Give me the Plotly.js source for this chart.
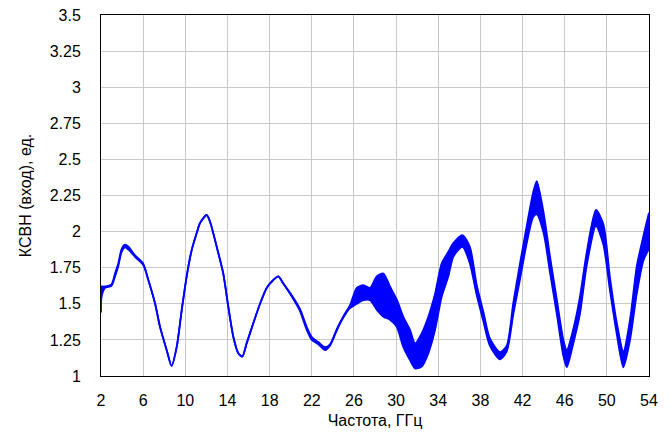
<!DOCTYPE html>
<html>
<head>
<meta charset="utf-8">
<script src="https://cdn.plot.ly/plotly-3.0.1.min.js"></script>
<style>html,body{margin:0;padding:0;background:#fff;}</style>
</head>
<body>
<div id="chart" style="width:672px;height:435px;"></div>
<script>
// Frequency, GHz
const freq = [2.0, 2.06, 2.38, 3.0, 3.33, 3.64, 3.96, 4.28, 4.6, 5.23, 6.0, 6.49, 7.12, 7.6, 8.23, 8.7, 9.18, 9.66, 10.13, 10.6,
  11.08, 11.4, 12.03, 12.34, 12.98, 13.6, 14.08, 14.56, 15.03, 15.41, 15.82, 16.45, 17.09, 17.72, 18.35, 18.83, 19.3, 20.1, 20.88, 21.52,
  22.0, 22.62, 23.26, 23.73, 24.37, 25.0, 25.63, 26.27, 26.9, 27.53, 28.16, 28.8, 29.42, 30.06, 30.69, 31.32, 31.8, 32.43, 33.06, 33.7,
  34.33, 34.96, 35.43, 36.3, 37.0, 37.65, 38.28, 38.9, 39.86, 40.5, 41.13, 41.76, 42.4, 43.0, 43.35, 44.0, 44.6, 45.25, 45.87, 46.2,
  46.8, 47.45, 48.1, 48.97, 49.67, 50.3, 50.94, 51.57, 52.2, 52.84, 53.47, 54.0];
// VSWR, lower envelope of the measured trace
const vswrLow = [1.44, 1.55, 1.61, 1.625, 1.69, 1.76, 1.86, 1.89, 1.875, 1.825, 1.77, 1.665, 1.505, 1.34, 1.18, 1.07, 1.20, 1.457, 1.69, 1.87,
  1.99, 2.06, 2.115, 2.07, 1.895, 1.71, 1.48, 1.27, 1.157, 1.135, 1.226, 1.365, 1.50, 1.61, 1.665, 1.69, 1.64, 1.55, 1.45, 1.32,
  1.25, 1.22, 1.18, 1.21, 1.315, 1.405, 1.47, 1.50, 1.525, 1.525, 1.46, 1.41, 1.39, 1.34, 1.20, 1.11, 1.053, 1.065, 1.157, 1.32,
  1.55, 1.69, 1.826, 1.895, 1.78, 1.56, 1.38, 1.21, 1.115, 1.17, 1.43, 1.67, 1.92, 2.10, 2.12, 1.99, 1.72, 1.43, 1.14, 1.06,
  1.22, 1.43, 1.77, 2.04, 1.91, 1.59, 1.29, 1.06, 1.25, 1.57, 1.80, 1.88];
// VSWR, upper envelope of the measured trace
const vswrHigh = [1.62, 1.62, 1.62, 1.635, 1.71, 1.78, 1.88, 1.91, 1.895, 1.835, 1.78, 1.665, 1.505, 1.34, 1.18, 1.07, 1.20, 1.457, 1.69, 1.87,
  1.99, 2.06, 2.115, 2.07, 1.895, 1.71, 1.48, 1.27, 1.157, 1.135, 1.226, 1.365, 1.50, 1.61, 1.665, 1.69, 1.64, 1.56, 1.465, 1.34,
  1.27, 1.235, 1.20, 1.22, 1.325, 1.415, 1.49, 1.61, 1.63, 1.61, 1.69, 1.71, 1.62, 1.53, 1.41, 1.32, 1.226, 1.295, 1.41, 1.57,
  1.78, 1.86, 1.92, 1.976, 1.895, 1.63, 1.445, 1.26, 1.165, 1.21, 1.51, 1.78, 2.04, 2.27, 2.35, 2.13, 1.83, 1.53, 1.25, 1.18,
  1.32, 1.55, 1.86, 2.15, 2.05, 1.68, 1.37, 1.17, 1.39, 1.76, 1.97, 2.13];
const xTicks = [2, 6, 10, 14, 18, 22, 26, 30, 34, 38, 42, 46, 50, 54];
const yTicks = [1, 1.25, 1.5, 1.75, 2, 2.25, 2.5, 2.75, 3, 3.25, 3.5];
const yTickText = ['1', '1.25', '1.5', '1.75', '2', '2.25', '2.5', '2.75', '3', '3.25', '3.5'];

const blue = '#0000ff';
const traces = [
  {x: freq, y: vswrLow, type: 'scatter', mode: 'lines', line: {color: blue, width: 1.8, shape: 'spline', smoothing: 0.7}, hoverinfo: 'skip', showlegend: false},
  {x: freq, y: vswrHigh, type: 'scatter', mode: 'lines', line: {color: blue, width: 1.8, shape: 'spline', smoothing: 0.7}, fill: 'tonexty', fillcolor: blue, hoverinfo: 'skip', showlegend: false}
];
const font = {family: '"Liberation Sans", Arial, sans-serif', size: 16, color: '#000'};
const layout = {
  width: 672, height: 435,
  margin: {l: 101, r: 23, t: 15, b: 59},
  paper_bgcolor: '#fff', plot_bgcolor: '#fff',
  font: font,
  showlegend: false,
  xaxis: {
    range: [2, 54], tickmode: 'array', tickvals: xTicks, ticktext: xTicks.map(String),
    showgrid: true, gridcolor: '#c8c8c8', gridwidth: 1,
    showline: true, linecolor: '#000', linewidth: 1, mirror: true,
    ticks: '', zeroline: false, ticklabelstandoff: 10,
    title: {text: 'Частота, ГГц', font: font, standoff: 6}
  },
  yaxis: {
    range: [1, 3.5], tickmode: 'array', tickvals: yTicks, ticktext: yTickText,
    showgrid: true, gridcolor: '#c8c8c8', gridwidth: 1,
    showline: true, linecolor: '#000', linewidth: 1, mirror: true,
    ticks: '', zeroline: false, ticklabelstandoff: 16,
    title: {text: 'КСВН (вход), ед.', font: font, standoff: 14}
  }
};
Plotly.newPlot('chart', traces, layout, {staticPlot: true, displayModeBar: false});
</script>
</body>
</html>
